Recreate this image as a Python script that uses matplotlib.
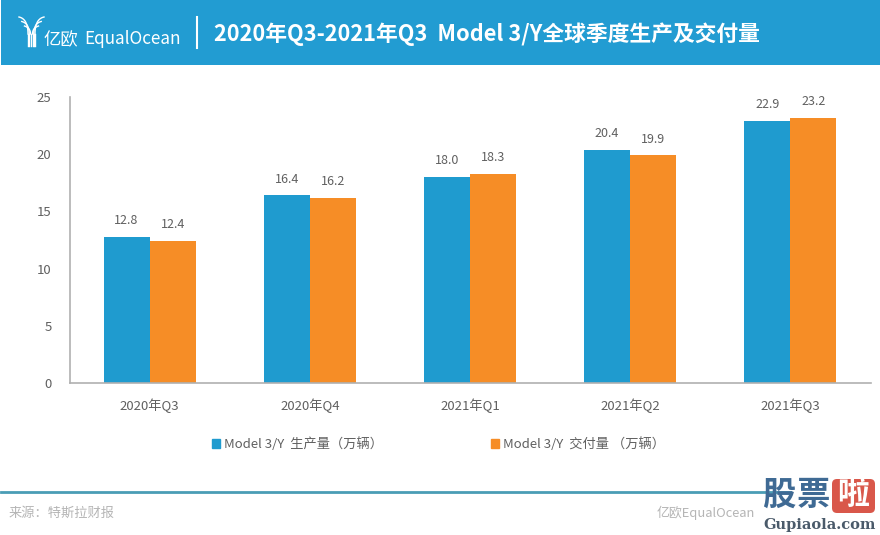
import numpy as np
import matplotlib
matplotlib.use('Agg')
import matplotlib.pyplot as plt
from matplotlib.patches import Rectangle, Patch, FancyBboxPatch

plt.rcParams['font.family'] = ['Noto Sans CJK SC', 'DejaVu Sans']

quarters = ['2020年Q3', '2020年Q4', '2021年Q1', '2021年Q2', '2021年Q3']
production = [12.8, 16.4, 18.0, 20.4, 22.9]
deliveries = [12.4, 16.2, 18.3, 19.9, 23.2]
y_ticks = [0, 5, 10, 15, 20, 25]
title = '2020年Q3-2021年Q3  Model 3/Y全球季度生产及交付量'
legend_labels = ['Model 3/Y  生产量（万辆）', 'Model 3/Y  交付量 （万辆）']

W, H = 880, 535
BLUE = '#1f9bcf'
ORANGE = '#f68d26'
GREY = '#606060'

fig = plt.figure(figsize=(W / 100, H / 100), dpi=100)

# overlay in pixel coordinates for header and footer
bg = fig.add_axes([0, 0, 1, 1])
bg.set_xlim(0, W)
bg.set_ylim(H, 0)
bg.axis('off')

# header band
bg.add_patch(Rectangle((1, 0), W - 1, 65, color='#229cd2', lw=0))
bg.plot([197, 197], [17, 48], color='white', lw=1.5)
bg.text(214, 34.5, title, color='white', fontsize=15.7, fontweight='bold', va='center', ha='left')

# logo, rough strokes
t = np.linspace(0, 1, 20)
for off in [0, 2.5, 5]:
    for side in [-1, 1]:
        sx = 31.5 + side * (1 + off * 0.5)
        ex = 31.5 + side * (7 + off * 1.1)
        ey = 26 - off * 1.8
        xs = (1 - t) ** 2 * sx + 2 * t * (1 - t) * sx + t ** 2 * ex
        ys = (1 - t) ** 2 * 34 + 2 * t * (1 - t) * (ey + 2) + t ** 2 * ey
        bg.plot(xs, ys, color='white', lw=1)
        bg.plot([sx, sx], [46, 34], color='white', lw=1)
bg.text(44, 40, '亿欧', color='white', fontsize=12.5, va='center', ha='left', fontweight='light')
bg.text(84, 39.5, 'EqualOcean', color='white', fontsize=12.3, va='center', ha='left', fontweight='light')

# footer
bg.plot([1, 790], [492, 492], color='#4a9db5', lw=2)
bg.text(9, 513, '来源：特斯拉财报', color='#b5b5b5', fontsize=9.5, va='center', ha='left')
bg.text(657, 513, '亿欧EqualOcean', color='#b5b5b5', fontsize=9.3, va='center', ha='left')

# watermark
for ch, xc in [('股', 779), ('票', 813)]:
    bg.text(xc, 495, ch, color='#3f6a94', fontsize=24, fontweight='black', va='center', ha='center')
bg.add_patch(FancyBboxPatch((835, 482), 37, 28, boxstyle='round,pad=3,rounding_size=5', color='#d9574a', lw=0))
bg.text(853, 495, '啦', color='white', fontsize=23, fontweight='black', va='center', ha='center')
bg.text(820, 525, 'Gupiaola.com', color='#4a5a6a', fontsize=10.5, family='DejaVu Serif',
        fontweight='bold', va='center', ha='center')

# chart
ax = fig.add_axes([69.5 / W, 1 - 383 / H, 801 / W, 286 / H])
ax.patch.set_alpha(0)
x = np.arange(len(quarters))
bar_w = 46 / 160
b1 = ax.bar(x - bar_w / 2, production, bar_w, color=BLUE)
b2 = ax.bar(x + bar_w / 2, deliveries, bar_w, color=ORANGE)
for bars, vals in [(b1, production), (b2, deliveries)]:
    for rect, v in zip(bars, vals):
        ax.text(rect.get_x() + rect.get_width() / 2, v + 0.85, f'{v:.1f}', ha='center', va='bottom',
                fontsize=9, color=GREY)

ax.set_xlim(-0.5, 4.5)
ax.set_ylim(0, 25)
ax.set_yticks(y_ticks)
ax.set_xticks(x)
ax.set_xticklabels(quarters)
ax.tick_params(axis='both', length=0, labelsize=9.5, labelcolor=GREY)
ax.tick_params(axis='x', pad=11)
ax.tick_params(axis='y', pad=13)
for s in ['top', 'right']:
    ax.spines[s].set_visible(False)
for s in ['left', 'bottom']:
    ax.spines[s].set_color('#b0b0b0')
    ax.spines[s].set_linewidth(1.2)

handles = [Patch(color=BLUE), Patch(color=ORANGE)]
fig.legend(handles, legend_labels, loc='center', bbox_to_anchor=(438.5 / W, 1 - 444 / H), ncol=2,
           frameon=False, fontsize=9.5, labelcolor=GREY, handlelength=0.6, handleheight=0.7,
           handletextpad=0.35, columnspacing=8.15)

fig.savefig('out.png', dpi=100)
